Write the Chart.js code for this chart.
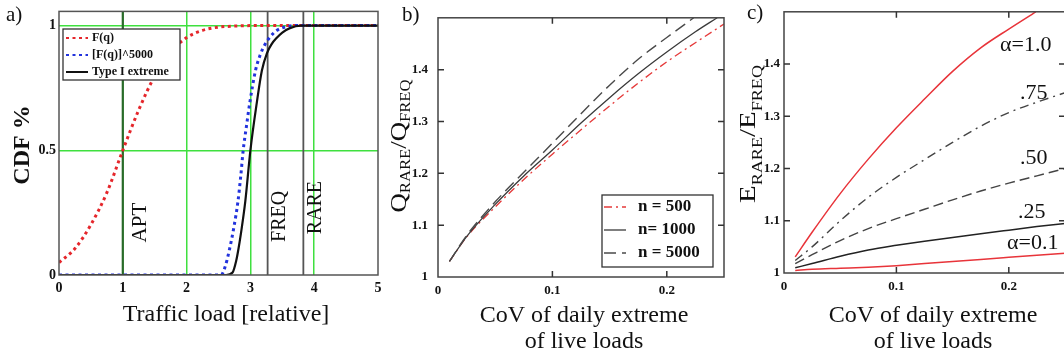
<!DOCTYPE html>
<html>
<head>
<meta charset="utf-8">
<script src="https://cdn.jsdelivr.net/npm/chart.js@4.4.1/dist/chart.umd.min.js"></script>
<style>
html,body{margin:0;padding:0;background:#fff;overflow:hidden;width:1064px;height:361px;}
canvas{position:absolute;top:0;}
#ca{left:0;width:390px;height:361px;}
#cb{left:380px;width:350px;height:361px;}
#cc{left:740px;width:330px;height:361px;}
</style>
</head>
<body>
<canvas id="ca" width="390" height="361"></canvas>
<canvas id="cb" width="350" height="361"></canvas>
<canvas id="cc" width="330" height="361"></canvas>
<script>
// ---------------- Panel a data ----------------
const loadTicks = [0, 1, 2, 3, 4, 5];
const cdfTicks = [0, 0.5, 1];
const fqX = [0, 0.25, 0.5, 0.75, 1, 1.25, 1.5, 1.75, 2, 2.25, 2.5, 2.75, 3, 3.5, 5];
const fqY = [0.05, 0.106, 0.202, 0.33, 0.5, 0.662, 0.798, 0.894, 0.952, 0.981, 0.994, 0.998, 1, 1, 1];
const f5000X = [0, 2.54, 2.6, 2.67, 2.74, 2.805, 2.85, 2.887, 2.94, 2.99, 3.08, 3.15, 3.23, 3.32, 3.41, 3.55, 3.67, 5];
const f5000Y = [0, 0, 0.03, 0.1, 0.19, 0.295, 0.4, 0.5, 0.6, 0.69, 0.82, 0.88, 0.925, 0.958, 0.98, 0.995, 1, 1];
const gumbelX = [0, 2.62, 2.72, 2.78, 2.81, 2.85, 2.92, 3.0, 3.1, 3.18, 3.26, 3.33, 3.41, 3.5, 3.62, 3.79, 5];
const gumbelY = [0, 0, 0.01, 0.06, 0.1, 0.164, 0.295, 0.5, 0.69, 0.82, 0.89, 0.925, 0.95, 0.972, 0.99, 1, 1];
const markerX = [1, 3.27, 3.83];
const markerLabels = ['APT', 'FREQ', 'RARE'];
const legendLabelsA = ['F(q)', '[F(q)]^5000', 'Type I extreme'];

// ---------------- Panel b data ----------------
const covTicks = [0, 0.1, 0.2];
const ratioTicks = [1, 1.1, 1.2, 1.3, 1.4];
const covB = [0.01, 0.025, 0.05, 0.075, 0.1, 0.125, 0.15, 0.175, 0.2, 0.225, 0.25];
const q500 = [1.03, 1.077, 1.135, 1.188, 1.237, 1.284, 1.33, 1.374, 1.415, 1.452, 1.488];
const covB1000 = [0.01, 0.025, 0.05, 0.075, 0.1, 0.125, 0.15, 0.175, 0.2, 0.225, 0.244];
const q1000 = [1.03, 1.078, 1.14, 1.195, 1.245, 1.297, 1.346, 1.392, 1.434, 1.473, 1.5];
const covB5000 = [0.01, 0.025, 0.05, 0.075, 0.1, 0.125, 0.15, 0.175, 0.2, 0.2235];
const q5000 = [1.03, 1.08, 1.145, 1.202, 1.258, 1.315, 1.37, 1.42, 1.462, 1.5];
const legendLabelsB = ['n = 500', 'n= 1000', 'n = 5000'];

// ---------------- Panel c data ----------------
const covC1 = [0.01, 0.025, 0.05, 0.075, 0.1, 0.125, 0.15, 0.175, 0.2, 0.224];
const e100 = [1.031, 1.078, 1.152, 1.218, 1.278, 1.333, 1.386, 1.431, 1.467, 1.5];
const covC = [0.01, 0.025, 0.05, 0.075, 0.1, 0.125, 0.15, 0.175, 0.2, 0.225, 0.25];
const e075 = [1.024, 1.05, 1.1, 1.145, 1.183, 1.217, 1.25, 1.281, 1.307, 1.327, 1.345];
const e050 = [1.018, 1.035, 1.062, 1.085, 1.104, 1.122, 1.14, 1.157, 1.172, 1.186, 1.2];
const e025 = [1.01, 1.018, 1.032, 1.044, 1.053, 1.061, 1.068, 1.075, 1.082, 1.089, 1.095];
const e010 = [1.005, 1.007, 1.009, 1.011, 1.014, 1.018, 1.022, 1.026, 1.03, 1.034, 1.038];
const alphaLabels = ['α=1.0', '.75', '.50', '.25', 'α=0.1'];

// ---------------- helpers ----------------
const SERIF = "'Liberation Serif', 'Times New Roman', serif";
function pts(xs, ys) { return xs.map((x, i) => ({ x: x, y: ys[i] })); }
function setTicks(arr) { return s => { s.ticks = arr.map(v => ({ value: v })); }; }

function frame(chart, color, w) {
  const { ctx, chartArea: a } = chart;
  ctx.save();
  ctx.strokeStyle = color; ctx.lineWidth = w;
  ctx.strokeRect(a.left, a.top, a.right - a.left, a.bottom - a.top);
  ctx.restore();
}
function innerTicks(chart, xs, ys, len) {
  const { ctx, chartArea: a, scales } = chart;
  ctx.save();
  ctx.strokeStyle = '#333'; ctx.lineWidth = 1.5;
  ctx.beginPath();
  xs.forEach(v => {
    const p = scales.x.getPixelForValue(v);
    ctx.moveTo(p, a.bottom); ctx.lineTo(p, a.bottom - len);
    ctx.moveTo(p, a.top); ctx.lineTo(p, a.top + len);
  });
  ys.forEach(v => {
    const p = scales.y.getPixelForValue(v);
    ctx.moveTo(a.left, p); ctx.lineTo(a.left + len, p);
    ctx.moveTo(a.right, p); ctx.lineTo(a.right - len, p);
  });
  ctx.stroke();
  ctx.restore();
}
function text(ctx, t, x, y, font, align, rot) {
  ctx.save();
  ctx.translate(x, y);
  if (rot) ctx.rotate(-Math.PI / 2);
  ctx.font = font; ctx.fillStyle = '#111';
  ctx.textAlign = align || 'center'; ctx.textBaseline = 'middle';
  ctx.fillText(t, 0, 0);
  ctx.restore();
}
function subTitle(ctx, m1, s1, m2, s2, baseX, cy, len, subOff) {
  const parts = [[m1, 24, 0], [s1, 15, subOff], ['/' + m2, 24, 0], [s2, 15, subOff]];
  ctx.save();
  ctx.translate(baseX, cy);
  ctx.rotate(-Math.PI / 2);
  let w = 0;
  parts.forEach(p => { ctx.font = p[1] + 'px ' + SERIF; p.w = ctx.measureText(p[0]).width; w += p.w; });
  ctx.scale(len / w, 1);
  ctx.fillStyle = '#111'; ctx.textAlign = 'left'; ctx.textBaseline = 'alphabetic';
  let x = -w / 2;
  parts.forEach(p => { ctx.font = p[1] + 'px ' + SERIF; ctx.fillText(p[0], x, p[2]); x += p.w; });
  ctx.restore();
}
function legendBox(chart, box, rows, sampleX0, sampleX1, textX, font, dsIdx, labels) {
  const ctx = chart.ctx;
  ctx.save();
  ctx.fillStyle = '#fff';
  ctx.fillRect(box[0], box[1], box[2], box[3]);
  ctx.strokeStyle = '#333'; ctx.lineWidth = 1.3;
  ctx.strokeRect(box[0], box[1], box[2], box[3]);
  dsIdx.forEach((di, i) => {
    const ds = chart.data.datasets[di];
    ctx.save();
    ctx.strokeStyle = ds.borderColor;
    ctx.lineWidth = Math.min(ds.borderWidth, 2);
    ctx.setLineDash(ds.borderDash || []);
    ctx.beginPath(); ctx.moveTo(sampleX0, rows[i]); ctx.lineTo(sampleX1, rows[i]); ctx.stroke();
    ctx.restore();
    ctx.font = font; ctx.fillStyle = '#111'; ctx.textAlign = 'left'; ctx.textBaseline = 'middle';
    ctx.fillText(labels[i], textX, rows[i]);
  });
  ctx.restore();
}
function lineDs(label, data, color, width, dash, order) {
  return { label: label, data: data, borderColor: color, borderWidth: width, borderDash: dash,
    pointRadius: 0, fill: false, cubicInterpolationMode: 'monotone', order: order };
}
Chart.defaults.font.family = SERIF;
Chart.defaults.color = '#111';

// ---------------- Panel a ----------------
const yMaxA = 1.057;
const greenX = [1, 2, 3, 4];
const greenY = [0.5, 1];
const markerColors = ['#2a6a2a', '#555555', '#555555'];
const dsA = [
  lineDs(legendLabelsA[2], pts(gumbelX, gumbelY), '#111111', 2.2, [], 0),
  lineDs(legendLabelsA[1], pts(f5000X, f5000Y), '#2233dd', 3, [3, 3.5], 1),
  lineDs(legendLabelsA[0], pts(fqX, fqY), '#e5262b', 3, [3, 3.5], 2)
];
markerX.forEach((mx, i) => {
  dsA.push({ label: markerLabels[i], data: [{ x: mx, y: 0 }, { x: mx, y: yMaxA }], borderColor: markerColors[i],
    borderWidth: i === 0 ? 2.2 : 1.8, pointRadius: 0, fill: false, order: 5 });
});

new Chart(document.getElementById('ca'), {
  type: 'line',
  data: { datasets: dsA },
  options: {
    responsive: false, animation: false, devicePixelRatio: 1,
    layout: { padding: { left: 0, right: 12, top: 6, bottom: 0 } },
    plugins: { legend: { display: false }, tooltip: { enabled: false } },
    scales: {
      x: {
        type: 'linear', min: 0, max: 5,
        afterBuildTicks: setTicks(loadTicks),
        afterFit: s => { s.height = 86; },
        grid: { drawTicks: false, lineWidth: 1.5,
          color: c => (c.tick && greenX.includes(c.tick.value)) ? '#3fe03f' : 'rgba(0,0,0,0)' },
        border: { display: false },
        ticks: { padding: 5, maxRotation: 0, autoSkip: false, font: { size: 14, weight: 'bold' },
          callback: v => String(v) }
      },
      y: {
        type: 'linear', min: 0, max: yMaxA,
        afterBuildTicks: setTicks(cdfTicks),
        afterFit: s => { s.width = 59; },
        grid: { drawTicks: false, lineWidth: 1.5,
          color: c => (c.tick && greenY.includes(c.tick.value)) ? '#3fe03f' : 'rgba(0,0,0,0)' },
        border: { display: false },
        ticks: { padding: 3, autoSkip: false, font: { size: 14, weight: 'bold' }, callback: v => String(v) }
      }
    }
  },
  plugins: [{
    id: 'decorA',
    afterDatasetsDraw(chart) {
      const ctx = chart.ctx;
      const xs = chart.scales.x, ys = chart.scales.y;
      frame(chart, '#555', 1.5);
      text(ctx, markerLabels[0], xs.getPixelForValue(markerX[0]) + 18, ys.getPixelForValue(0.21), '21px ' + SERIF, 'center', true);
      text(ctx, markerLabels[1], xs.getPixelForValue(markerX[1]) + 12, ys.getPixelForValue(0.235), '20px ' + SERIF, 'center', true);
      text(ctx, markerLabels[2], xs.getPixelForValue(markerX[2]) + 12, ys.getPixelForValue(0.27), '20px ' + SERIF, 'center', true);
      legendBox(chart, [63, 29, 117, 51], [38, 55, 72], 66, 88, 92, 'bold 12px ' + SERIF, [2, 1, 0], legendLabelsA);
      text(ctx, 'a)', 6, 15, '21px ' + SERIF, 'left');
      text(ctx, 'CDF %', 23, 145, 'bold 24px ' + SERIF, 'center', true);
      text(ctx, 'Traffic load [relative]', 226, 315, '24px ' + SERIF, 'center');
    }
  }]
});

// ---------------- Panel b ----------------
const dsB = [
  lineDs(legendLabelsB[0], pts(covB, q500), '#e53a3a', 1.3, [8, 4, 2, 4], 2),
  lineDs(legendLabelsB[1], pts(covB1000, q1000), '#3a3a3a', 1.3, [], 1),
  lineDs(legendLabelsB[2], pts(covB5000, q5000), '#4a4a4a', 1.4, [12, 6], 0)
];
new Chart(document.getElementById('cb'), {
  type: 'line',
  data: { datasets: dsB },
  options: {
    responsive: false, animation: false, devicePixelRatio: 1,
    layout: { padding: { left: 0, right: 6, top: 6, bottom: 0 } },
    plugins: { legend: { display: false }, tooltip: { enabled: false } },
    scales: {
      x: {
        type: 'linear', min: 0, max: 0.25,
        afterBuildTicks: setTicks(covTicks),
        afterFit: s => { s.height = 84; },
        grid: { display: false, drawTicks: false }, border: { display: false },
        ticks: { padding: 6, maxRotation: 0, autoSkip: false, font: { size: 13, weight: 'bold' }, callback: v => String(v) }
      },
      y: {
        type: 'linear', min: 1, max: 1.5,
        afterBuildTicks: setTicks(ratioTicks),
        afterFit: s => { s.width = 58; },
        grid: { display: false, drawTicks: false }, border: { display: false },
        ticks: { padding: 10, autoSkip: false, font: { size: 13, weight: 'bold' }, callback: v => String(v) }
      }
    }
  },
  plugins: [{
    id: 'decorB',
    afterDatasetsDraw(chart) {
      const ctx = chart.ctx;
      frame(chart, '#444', 1.5);
      innerTicks(chart, covTicks.slice(1), ratioTicks.slice(1), 6);
      legendBox(chart, [222, 195, 111, 72], [207, 230, 253], 224, 246, 258, 'bold 17px ' + SERIF, [0, 1, 2], legendLabelsB);
      text(ctx, 'b)', 22, 15, '21px ' + SERIF, 'left');
      subTitle(ctx, 'Q', 'RARE', 'Q', 'FREQ', 26, 146, 133, 4);
      text(ctx, 'CoV of daily extreme', 204, 316, '24px ' + SERIF, 'center');
      text(ctx, 'of live loads', 204, 342, '24px ' + SERIF, 'center');
    }
  }]
});

// ---------------- Panel c ----------------
const dsC = [
  lineDs(alphaLabels[0], pts(covC1, e100), '#e8343a', 1.5, [], 0),
  lineDs(alphaLabels[1], pts(covC, e075), '#444444', 1.4, [9, 5, 2, 5], 1),
  lineDs(alphaLabels[2], pts(covC, e050), '#444444', 1.4, [10, 5], 2),
  lineDs(alphaLabels[3], pts(covC, e025), '#222222', 1.5, [], 3),
  lineDs(alphaLabels[4], pts(covC, e010), '#e8343a', 1.5, [], 4)
];
new Chart(document.getElementById('cc'), {
  type: 'line',
  data: { datasets: dsC },
  options: {
    responsive: false, animation: false, devicePixelRatio: 1,
    layout: { padding: { left: 0, right: 5, top: 6, bottom: 0 } },
    plugins: { legend: { display: false }, tooltip: { enabled: false } },
    scales: {
      x: {
        type: 'linear', min: 0, max: 0.25,
        afterBuildTicks: setTicks(covTicks),
        afterFit: s => { s.height = 88; },
        grid: { display: false, drawTicks: false }, border: { display: false },
        ticks: { padding: 6, maxRotation: 0, autoSkip: false, font: { size: 13, weight: 'bold' }, callback: v => String(v) }
      },
      y: {
        type: 'linear', min: 1, max: 1.5,
        afterBuildTicks: setTicks(ratioTicks),
        afterFit: s => { s.width = 44; },
        grid: { display: false, drawTicks: false }, border: { display: false },
        ticks: { padding: 4, autoSkip: false, font: { size: 13, weight: 'bold' }, callback: v => String(v) }
      }
    }
  },
  plugins: [{
    id: 'decorC',
    afterDatasetsDraw(chart) {
      const ctx = chart.ctx;
      frame(chart, '#444', 1.5);
      innerTicks(chart, covTicks.slice(1), ratioTicks.slice(1), 6);
      const lx = [260, 280, 280, 278, 267];
      const ly = [45, 93, 158, 212, 243];
      alphaLabels.forEach((t, i) => text(ctx, t, lx[i], ly[i], '22px ' + SERIF, 'left'));
      text(ctx, 'c)', 7, 13, '21px ' + SERIF, 'left');
      subTitle(ctx, 'E', 'RARE', 'E', 'FREQ', 15, 134, 138, 7);
      text(ctx, 'CoV of daily extreme', 193, 316, '24px ' + SERIF, 'center');
      text(ctx, 'of live loads', 193, 342, '24px ' + SERIF, 'center');
    }
  }]
});
</script>
</body>
</html>
